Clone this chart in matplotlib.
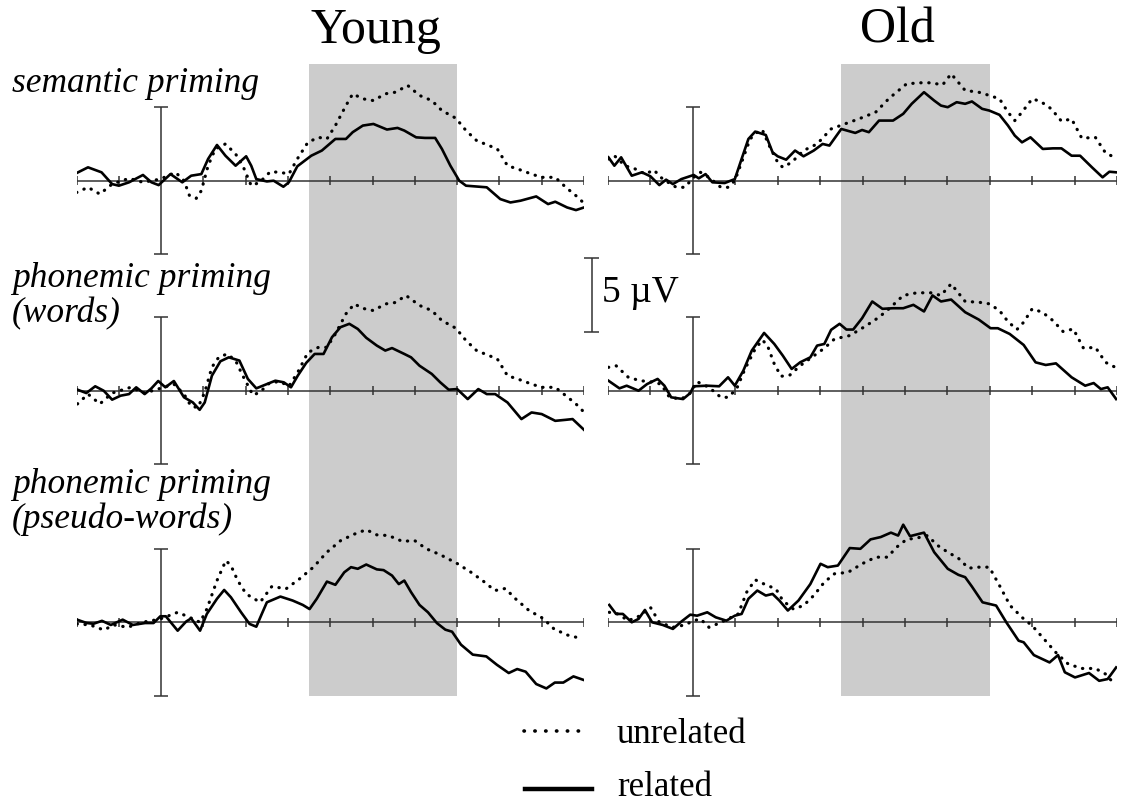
import numpy as np
import matplotlib.pyplot as plt
from matplotlib.lines import Line2D

plt.rcParams['font.family'] = ['Liberation Serif', 'DejaVu Serif']

# ERP waveforms: (time in ms, amplitude in µV, drawn upward)
young_sem_rel = [(-200, 0.52), (-173, 0.91), (-141, 0.57), (-116, -0.23), (-100, -0.34), (-76, -0.11),
                 (-43, 0.39), (-23, -0.11), (-6, -0.30), (22, 0.45), (50, -0.11), (71, 0.34), (95, 0.45),
                 (111, 1.48), (132, 2.43), (152, 1.70), (176, 1.02), (201, 1.66), (213, 1.02), (225, 0.11),
                 (250, -0.05), (266, 0.0), (289, -0.41), (302, -0.11), (322, 0.98), (355, 1.70), (380, 2.05),
                 (412, 2.84), (437, 2.84), (453, 3.30), (477, 3.75), (502, 3.86), (534, 3.48), (559, 3.59),
                 (575, 3.41), (603, 2.95), (624, 2.91), (648, 2.91), (664, 2.16), (684, 1.02), (705, 0.0),
                 (721, -0.34), (770, -0.45), (802, -1.25), (826, -1.48), (850, -1.36), (887, -1.07),
                 (915, -1.59), (932, -1.43), (960, -1.82), (981, -2.0), (1000, -1.82)]
young_sem_unrel = [(-200, -0.80), (-173, -0.45), (-145, -0.91), (-116, -0.23), (-76, 0.16), (-43, -0.11),
                   (-2, 0.11), (34, 0.57), (54, 0.0), (67, -1.02), (83, -1.20), (95, -0.68), (111, 1.02),
                   (128, 2.16), (152, 2.50), (176, 1.82), (193, 1.02), (213, -0.34), (233, -0.11), (258, 0.61),
                   (282, 0.57), (302, 0.45), (322, 1.48), (347, 2.61), (372, 2.95), (392, 2.84), (412, 3.75),
                   (437, 5.11), (453, 5.91), (477, 5.57), (502, 5.45), (530, 5.91), (554, 6.02), (583, 6.48),
                   (611, 5.80), (640, 5.45), (664, 4.77), (697, 4.25), (721, 3.41), (746, 2.73), (795, 2.16),
                   (819, 1.02), (843, 0.80), (876, 0.45), (900, 0.23), (932, 0.23), (957, -0.45),
                   (981, -1.02), (998, -1.48)]

old_sem_rel = [(-199, 1.59), (-185, 1.02), (-169, 1.59), (-144, 0.34), (-120, 0.57), (-100, 0.30),
               (-79, -0.30), (-63, 0.07), (-47, -0.23), (-27, 0.11), (2, 0.39), (14, 0.16), (30, 0.45),
               (46, -0.11), (75, -0.16), (99, 0.11), (115, 1.48), (131, 2.84), (147, 3.34), (172, 3.11),
               (188, 1.93), (200, 1.66), (220, 1.43), (241, 2.05), (261, 1.66), (285, 2.05), (306, 2.50),
               (322, 2.39), (350, 3.52), (383, 3.25), (399, 3.45), (415, 3.30), (439, 4.09), (472, 4.09),
               (496, 4.55), (516, 5.23), (545, 6.02), (569, 5.45), (585, 5.11), (601, 5.0), (622, 5.34),
               (642, 5.23), (658, 5.39), (682, 4.89), (699, 4.77), (723, 4.48), (743, 3.75), (759, 3.07),
               (776, 2.61), (796, 2.95), (825, 2.16), (849, 2.20), (869, 2.20), (893, 1.70), (913, 1.70),
               (941, 0.91), (966, 0.23), (982, 0.61), (998, 0.57)]
old_sem_unrel = [(-199, 1.48), (-185, 1.70), (-160, 1.02), (-136, 0.80), (-112, 0.45), (-92, 0.73),
                 (-71, 0.11), (-39, -0.45), (-19, -0.45), (2, 0.23), (18, 0.57), (38, 0.23), (66, -0.45),
                 (83, -0.45), (99, 0.0), (115, 1.25), (135, 2.84), (156, 3.41), (164, 3.45), (180, 2.39),
                 (200, 1.25), (212, 0.91), (233, 1.25), (261, 2.05), (293, 2.50), (326, 3.52), (358, 3.86),
                 (391, 4.20), (431, 4.66), (463, 5.61), (504, 6.59), (536, 6.66), (561, 6.66), (589, 6.52),
                 (609, 7.27), (642, 6.14), (674, 6.02), (699, 5.80), (723, 5.57), (743, 4.66), (759, 4.09),
                 (776, 4.66), (800, 5.57), (820, 5.39), (845, 4.89), (869, 4.05), (893, 4.20), (917, 2.89),
                 (949, 2.95), (973, 1.89), (994, 1.59)]

young_wrd_rel = [(-198, 0.07), (-177, -0.16), (-156, 0.30), (-136, 0.0), (-116, -0.61), (-96, -0.34),
                 (-76, -0.23), (-59, 0.23), (-39, -0.23), (-23, 0.16), (-7, 0.66), (10, 0.23), (30, 0.66),
                 (54, -0.45), (75, -0.80), (91, -1.30), (103, -0.80), (120, 1.02), (140, 2.0), (160, 2.27),
                 (185, 2.05), (205, 0.80), (225, 0.16), (250, 0.45), (270, 0.68), (290, 0.57), (307, 0.23),
                 (323, 1.02), (343, 1.89), (363, 2.50), (384, 2.50), (404, 3.64), (424, 4.32), (445, 4.55),
                 (465, 4.20), (485, 3.60), (510, 3.07), (530, 2.73), (546, 2.90), (575, 2.50), (591, 2.27),
                 (611, 1.70), (640, 1.14), (660, 0.57), (680, 0.07), (700, 0.11), (725, -0.57), (750, 0.11),
                 (770, -0.23), (790, -0.23), (819, -0.80), (852, -1.93), (876, -1.48), (900, -1.59),
                 (932, -2.05), (957, -1.98), (973, -1.93), (1000, -2.66)]
young_wrd_unrel = [(-198, -0.90), (-173, -0.23), (-145, -0.90), (-116, -0.16), (-72, 0.23), (-39, -0.16),
                   (-2, 0.16), (30, 0.45), (54, -0.23), (71, -1.07), (87, -1.14), (103, -0.11), (120, 1.60),
                   (136, 2.27), (156, 2.50), (176, 2.05), (193, 1.02), (217, -0.30), (233, -0.11), (258, 0.57),
                   (282, 0.61), (302, 0.30), (323, 1.25), (347, 2.60), (372, 2.95), (392, 2.95), (412, 3.86),
                   (437, 5.23), (457, 5.90), (477, 5.60), (502, 5.45), (530, 5.90), (554, 6.0), (579, 6.48),
                   (611, 5.80), (640, 5.45), (664, 4.77), (697, 4.25), (721, 3.41), (746, 2.73), (795, 2.16),
                   (819, 1.02), (843, 0.80), (876, 0.45), (900, 0.23), (932, 0.23), (957, -0.34),
                   (981, -0.90), (999, -1.43)]

old_wrd_rel = [(-199, 0.68), (-173, 0.16), (-156, 0.34), (-128, 0.0), (-108, 0.45), (-83, 0.80),
               (-67, 0.34), (-51, -0.45), (-23, -0.57), (-6, -0.16), (2, 0.30), (34, 0.34), (62, 0.30),
               (83, 0.91), (99, 0.34), (119, 1.36), (139, 2.73), (168, 3.93), (192, 3.18), (212, 2.39),
               (233, 1.48), (253, 1.93), (277, 2.27), (293, 3.07), (310, 3.18), (326, 4.14), (346, 4.55),
               (362, 4.16), (378, 4.16), (399, 4.93), (423, 6.07), (447, 5.57), (472, 5.61), (496, 5.61),
               (520, 5.84), (545, 5.39), (565, 6.48), (585, 6.07), (609, 6.20), (642, 5.34), (674, 4.84),
               (702, 4.25), (719, 4.25), (747, 3.86), (780, 3.11), (808, 1.93), (832, 1.75), (856, 1.86),
               (893, 0.91), (925, 0.34), (945, 0.52), (962, 0.11), (978, 0.23), (998, -0.57)]
old_wrd_unrel = [(-199, 1.59), (-181, 1.70), (-152, 0.91), (-124, 0.68), (-100, 0.61), (-75, 0.45),
                 (-55, -0.45), (-27, -0.57), (-6, -0.16), (10, 0.61), (38, 0.23), (66, -0.45), (83, -0.45),
                 (103, 0.11), (123, 1.48), (147, 2.84), (164, 3.45), (176, 3.07), (192, 1.82), (208, 0.98),
                 (229, 1.07), (253, 1.70), (277, 2.20), (310, 2.89), (334, 3.52), (370, 3.75), (407, 4.39),
                 (439, 5.0), (464, 5.61), (496, 6.48), (528, 6.66), (561, 6.66), (585, 6.48), (609, 7.27),
                 (642, 6.07), (674, 6.02), (699, 5.91), (723, 5.45), (743, 4.70), (764, 4.16), (780, 4.66),
                 (800, 5.57), (824, 5.34), (849, 4.77), (873, 4.02), (897, 4.20), (921, 2.89), (949, 2.95),
                 (973, 1.93), (996, 1.59)]

young_pse_rel = [(-199, 0.18), (-176, -0.05), (-160, -0.10), (-140, 0.10), (-119, -0.18), (-91, 0.18),
                 (-67, -0.18), (-38, -0.05), (-18, -0.05), (-2, 0.41), (11, 0.41), (39, -0.57), (59, 0.05),
                 (71, 0.27), (92, -0.57), (108, 0.57), (132, 1.60), (149, 2.20), (165, 1.70), (189, 0.68),
                 (209, -0.11), (225, -0.30), (238, 0.57), (250, 1.36), (282, 1.75), (311, 1.48), (335, 1.18),
                 (351, 0.90), (368, 1.60), (392, 2.77), (412, 2.55), (433, 3.40), (449, 3.75), (465, 3.64),
                 (485, 3.93), (510, 3.60), (526, 3.55), (546, 3.18), (562, 2.60), (575, 2.84), (591, 2.05),
                 (611, 1.18), (631, 0.68), (652, -0.05), (672, -0.50), (688, -0.64), (709, -1.52),
                 (737, -2.20), (769, -2.32), (794, -2.89), (822, -3.45), (842, -3.18), (862, -3.36),
                 (887, -4.20), (911, -4.50), (931, -4.10), (951, -4.10), (975, -3.68), (1000, -3.93)]
young_pse_unrel = [(-199, -0.11), (-168, -0.18), (-136, -0.52), (-111, -0.18), (-79, -0.34), (-46, 0.0),
                   (-22, 0.11), (2, 0.27), (39, 0.68), (67, 0.34), (92, 0.0), (108, 0.90), (132, 2.84),
                   (153, 4.20), (165, 3.86), (181, 2.84), (201, 1.93), (234, 1.36), (262, 2.45), (295, 2.27),
                   (327, 2.95), (360, 3.75), (392, 4.77), (425, 5.57), (457, 6.0), (485, 6.30), (510, 5.95),
                   (538, 5.90), (571, 5.50), (599, 5.57), (627, 5.0), (660, 4.60), (700, 4.0), (733, 3.40),
                   (765, 2.73), (789, 2.16), (814, 2.30), (838, 1.60), (870, 0.80), (903, 0.27),
                   (929, -0.45), (960, -0.86), (993, -1.10)]

old_pse_rel = [(-197, 1.18), (-181, 0.57), (-165, 0.57), (-144, 0.0), (-128, 0.23), (-113, 0.84),
               (-96, 0.0), (-71, -0.18), (-47, -0.45), (-27, 0.05), (-6, 0.52), (10, 0.45), (34, 0.68),
               (54, 0.34), (79, 0.11), (99, 0.45), (115, 0.57), (131, 1.60), (152, 2.16), (172, 1.82),
               (188, 1.93), (204, 1.48), (224, 0.80), (249, 1.48), (277, 2.60), (301, 3.98), (318, 3.75),
               (342, 3.86), (370, 5.05), (395, 5.0), (419, 5.64), (443, 5.80), (467, 6.10), (484, 5.90),
               (496, 6.64), (512, 5.86), (545, 6.10), (569, 4.77), (601, 3.64), (626, 3.23), (642, 3.07),
               (658, 2.43), (683, 1.36), (715, 1.14), (739, 0.0), (768, -1.25), (780, -1.36), (804, -2.23),
               (841, -2.73), (861, -2.23), (877, -3.40), (901, -3.75), (934, -3.45), (958, -3.98),
               (978, -3.86), (998, -3.07)]
old_pse_unrel = [(-197, 0.68), (-177, 0.57), (-152, 0.11), (-124, 0.45), (-100, 1.02), (-79, 0.0),
                 (-47, -0.34), (-19, -0.18), (2, 0.11), (18, 0.23), (38, -0.34), (58, -0.11), (83, 0.23),
                 (107, 0.57), (127, 2.05), (147, 2.89), (172, 2.55), (196, 2.27), (212, 1.48), (237, 0.90),
                 (261, 1.14), (285, 1.82), (310, 2.73), (334, 3.30), (366, 3.40), (399, 3.98), (431, 4.43),
                 (459, 4.43), (480, 5.10), (504, 5.64), (528, 5.73), (553, 5.90), (577, 5.23), (601, 4.77),
                 (626, 4.36), (650, 3.68), (674, 3.75), (699, 3.75), (723, 2.50), (748, 1.14), (780, 0.23),
                 (800, -0.23), (828, -1.14), (857, -2.09), (885, -2.84), (917, -3.14), (949, -3.14),
                 (973, -3.52), (994, -4.20)]

groups = ['Young', 'Old']
row_labels = [['semantic priming'],
              ['phonemic priming', '(words)'],
              ['phonemic priming', '(pseudo-words)']]
related = [[young_sem_rel, old_sem_rel], [young_wrd_rel, old_wrd_rel], [young_pse_rel, old_pse_rel]]
unrelated = [[young_sem_unrel, old_sem_unrel], [young_wrd_unrel, old_wrd_unrel],
             [young_pse_unrel, old_pse_unrel]]
window = (350, 700)
tick_ms = np.arange(-200, 1001, 100)

# layout in pixels of the 1129x804 picture
W, H = 1129, 804
col_px = [(76.6, 584.0), (608.0, 1117.0)]
base_px = [181.7, 391.7, 623.3]
px_uv = 14.7
y_lo, y_hi = -7, 8
axis_col = '#333333'
dots = (0, (0.1, 2.4))


def fx(px):
    return px / W


def fy(py):
    return 1 - py / H


fig = plt.figure(figsize=(W / 100, H / 100), dpi=100)

# grey analysis window, one band running through all rows
for x0, x1 in col_px:
    bg = fig.add_axes([fx(x0), fy(697), (x1 - x0) / W, (697 - 65) / H])
    bg.set_xlim(-200, 1000)
    bg.set_ylim(0, 1)
    bg.axvspan(window[0], window[1], color='#cccccc', lw=0)
    bg.axis('off')

axes = []
for r, b in enumerate(base_px):
    row_axes = []
    for c, (x0, x1) in enumerate(col_px):
        ax = fig.add_axes([fx(x0), fy(b - y_lo * px_uv), (x1 - x0) / W, (y_hi - y_lo) * px_uv / H])
        ax.set_xlim(-200, 1000)
        ax.set_ylim(y_lo, y_hi)
        ax.axis('off')
        # time axis with 100 ms ticks, amplitude axis at stimulus onset
        ax.hlines(0, -200, 1000, color=axis_col, lw=1.1)
        ax.vlines(tick_ms[tick_ms != 0], -0.3, 0.3, color=axis_col, lw=1.1)
        ax.vlines(0, -5, 5, color=axis_col, lw=1.1)
        ax.hlines([-5, 5], -17, 17, color=axis_col, lw=1.1)

        t, v = np.array(unrelated[r][c]).T
        ax.plot(t, v, color='black', lw=2.3, ls=dots, dash_capstyle='round')
        t, v = np.array(related[r][c]).T
        ax.plot(t, v, color='black', lw=1.9, solid_joinstyle='round')
        row_axes.append(ax)
    axes.append(row_axes)

# 5 µV calibration bar
cal = axes[1][0]
cal.vlines(1018, 4, 9, color=axis_col, lw=1.1, clip_on=False)
cal.hlines([4, 9], 1001, 1035, color=axis_col, lw=1.1, clip_on=False)
fig.text(fx(602), fy(302), '5 µV', fontsize=27, va='baseline', ha='left')

# group titles
fig.text(fx(376), fy(42.7), groups[0], fontsize=36, ha='center', va='baseline')
fig.text(fx(897), fy(42.7), groups[1], fontsize=36, ha='center', va='baseline')

# condition labels
label_base = [[92], [287, 322], [493, 528]]
for lines, ys in zip(row_labels, label_base):
    for txt, yb in zip(lines, ys):
        fig.text(fx(12), fy(yb), txt, fontsize=25.5, style='italic', ha='left', va='baseline')

# legend
fig.add_artist(Line2D([fx(524), fx(588)], [fy(732), fy(732)], color='black', lw=2.6,
                      ls=(0, (0.1, 2.9)), dash_capstyle='round'))
fig.add_artist(Line2D([fx(525), fx(592)], [fy(790), fy(790)], color='black', lw=3.2))
fig.text(fx(617), fy(742.7), 'unrelated', fontsize=25, ha='left', va='baseline')
fig.text(fx(617), fy(796), 'related', fontsize=25, ha='left', va='baseline')

fig.savefig('out.png', dpi=100)
